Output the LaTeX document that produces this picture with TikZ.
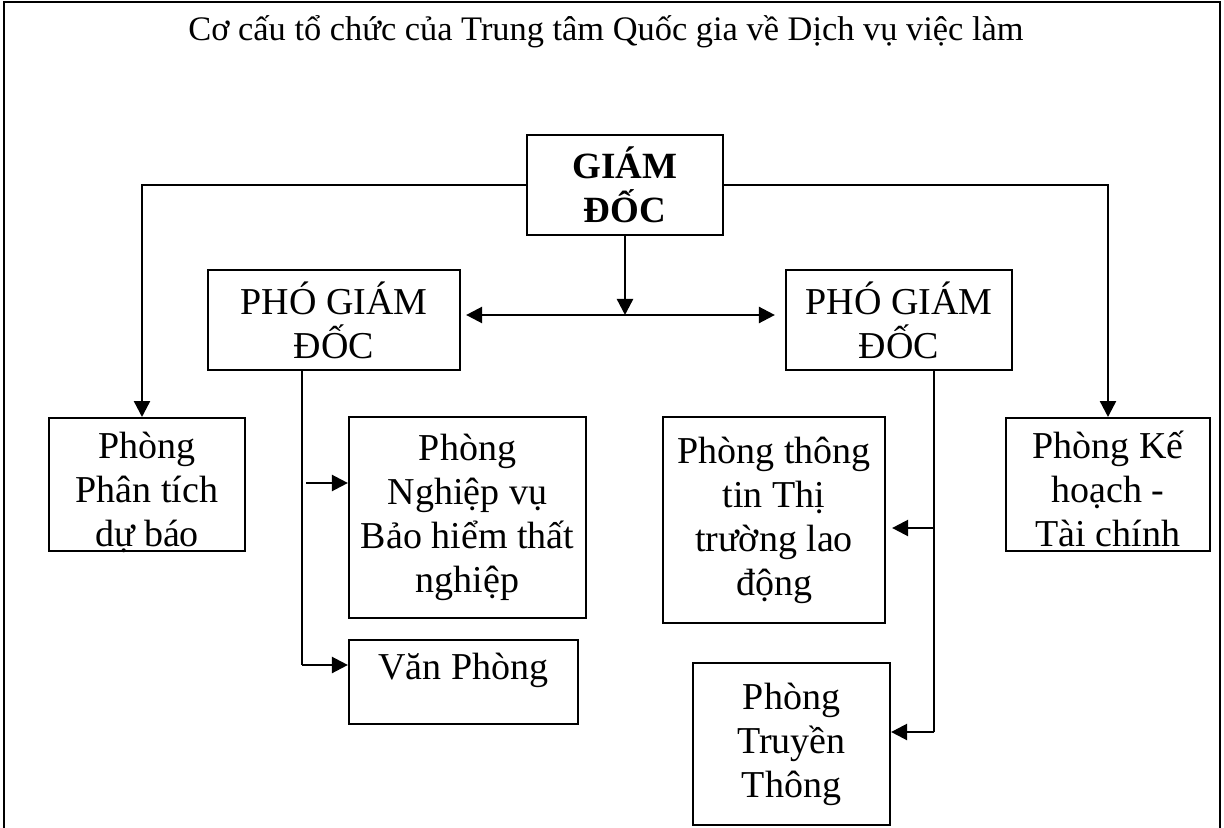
\documentclass[tikz,border=0pt]{standalone}
\usepackage{fontspec}
\setmainfont{Liberation Serif}
\usepackage{tikz}
\usetikzlibrary{arrows.meta}

\tikzset{
  phong/.style={draw, line width=1.1pt, align=center, inner sep=0pt,
    font=\fontsize{19}{22}\selectfont},
  noi/.style={line width=1.2pt},
  mui/.style={line width=1.2pt, -{Triangle[length=8pt,width=8pt]}},
}

\begin{document}
\begin{tikzpicture}[x=0.5pt,y=-0.5pt]
    \useasboundingbox (0,0) rectangle (1224,828);
    \draw[line width=1pt] (4,828) -- (4,2) -- (1220,2) -- (1220,828);
    \node (tieude) at (606,32) {\fontsize{17.2}{20}\selectfont Cơ cấu tổ chức của Trung tâm Quốc gia về Dịch vụ việc làm};

    \node[phong, minimum width=98pt, minimum height=50pt, font=\fontsize{18.5}{22}\selectfont\bfseries] (gd) at (625,185) {GIÁM\\ĐỐC};
    \node[phong, minimum width=126pt, minimum height=50pt] (pgdL) at (334,320) {PHÓ GIÁM\\ĐỐC};
    \node[phong, minimum width=113pt, minimum height=50pt] (pgdR) at (899,320) {PHÓ GIÁM\\ĐỐC};

    \node[phong, minimum width=98pt, text height=64pt, text depth=2.5pt, anchor=north] (ptdb) at (147,417) {Phòng\\Phân tích\\dự báo};
    \node[phong, minimum width=118.5pt, minimum height=100.5pt] (nvbh) at (467.5,517.5) {Phòng\\Nghiệp vụ\\Bảo hiểm thất\\nghiệp};
    \node[phong, minimum width=114.5pt, text height=19.5pt, text depth=22.5pt, anchor=north] (vp) at (463.5,639) {Văn Phòng};
    \node[phong, minimum width=111pt, minimum height=103pt] (tt) at (774,520) {Phòng thông\\tin Thị\\trường lao\\động};
    \node[phong, minimum width=98.5pt, minimum height=81pt] (tr) at (791.5,744) {Phòng\\Truyền\\Thông};
    \node[phong, minimum width=102pt, text height=64pt, text depth=2.5pt, anchor=north] (kh) at (1108,417) {Phòng Kế\\hoạch -\\Tài chính};

    \coordinate (giua) at (625,315);
    \coordinate (l1) at (302,483);
    \coordinate (l2) at (302,665);
    \coordinate (r1) at (934,528);
    \coordinate (r2) at (934,732);

    \draw[mui] (gd.west) -| ([xshift=-2.5pt]ptdb.north);
    \draw[mui] (gd.east) -| (kh.north);
    \draw[mui] (gd.south) -- (giua);
    \draw[noi, {Triangle[length=8pt,width=8pt]}-{Triangle[length=8pt,width=8pt]}, shorten <=2.5pt, shorten >=5pt] (pgdL.east |- giua) -- (pgdR.west |- giua);

    \draw[noi] (pgdL.south -| l2) -- (l2);
    \draw[mui] ([xshift=2pt]l1) -- (l1 -| nvbh.west);
    \draw[mui] (l2) -- (l2 -| vp.west);

    \draw[noi] (pgdR.south -| r2) -- (r2);
    \draw[mui, shorten >=3pt] (r1) -- (r1 -| tt.east);
    \draw[mui] (r2) -- (r2 -| tr.east);
\end{tikzpicture}
\end{document}
